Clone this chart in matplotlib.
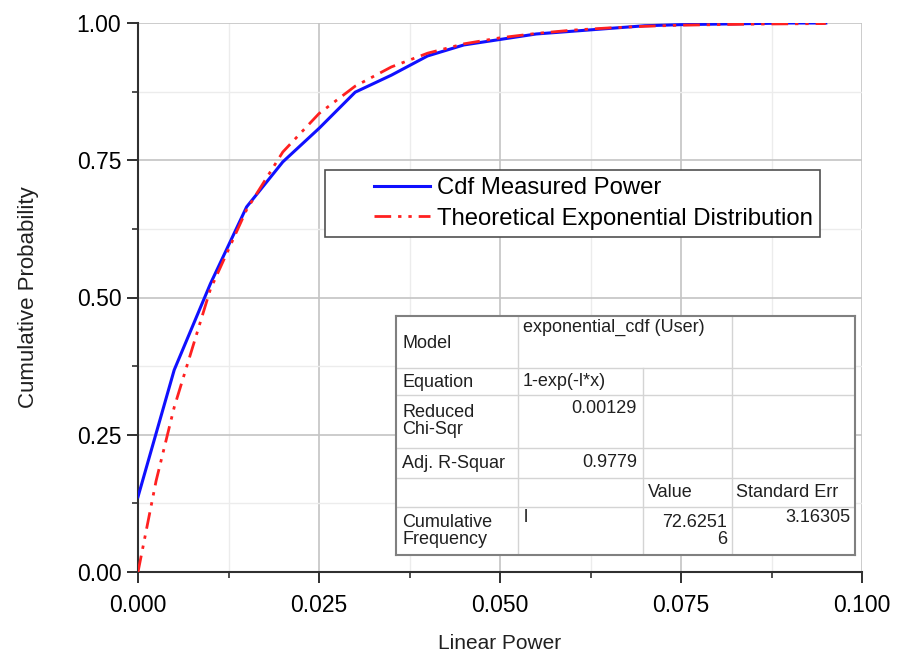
import matplotlib.pyplot as plt
from matplotlib.legend_handler import HandlerLine2D
from matplotlib.ticker import MultipleLocator, FormatStrFormatter

plt.rcParams['font.family'] = ['Liberation Sans', 'DejaVu Sans']

# measured cdf
x_meas = [0.0, 0.005, 0.010, 0.015, 0.020, 0.025, 0.030, 0.035, 0.040, 0.045,
          0.050, 0.055, 0.060, 0.065, 0.070, 0.075, 0.080, 0.085, 0.090, 0.095]
cdf_meas = [0.137, 0.368, 0.525, 0.665, 0.747, 0.808, 0.874, 0.905, 0.940, 0.960,
            0.970, 0.980, 0.985, 0.990, 0.995, 0.997, 0.998, 0.999, 1.0, 1.0]

# theoretical exponential
x_theo = [0.0, 0.0025, 0.005, 0.010, 0.015, 0.020, 0.025, 0.030, 0.035, 0.040, 0.045,
          0.050, 0.055, 0.060, 0.065, 0.070, 0.075, 0.080, 0.085, 0.090, 0.095]
cdf_theo = [0.0, 0.166, 0.30, 0.515, 0.66, 0.765, 0.835, 0.885, 0.92, 0.945, 0.962,
            0.973, 0.981, 0.987, 0.991, 0.994, 0.996, 0.997, 0.998, 0.9985, 0.999]

labels = ["Cdf Measured Power", "Theoretical Exponential Distribution"]

fig = plt.figure(figsize=(8.97, 6.6), dpi=100)
ax = fig.add_axes([138/897, 1-572/660, 724/897, 549/660])

ax.plot(x_meas, cdf_meas, color='#1010ff', lw=2.2, label=labels[0], zorder=3)
ax.plot(x_theo, cdf_theo, color='#ff2020', lw=2.0, ls=(0, (6, 2.5, 1.2, 2.5, 1.2, 2.5)),
        label=labels[1], zorder=4)

ax.set_xlim(0, 0.1)
ax.set_ylim(0, 1.0)
ax.xaxis.set_major_locator(MultipleLocator(0.025))
ax.xaxis.set_minor_locator(MultipleLocator(0.0125))
ax.yaxis.set_major_locator(MultipleLocator(0.25))
ax.yaxis.set_minor_locator(MultipleLocator(0.125))
ax.xaxis.set_major_formatter(FormatStrFormatter('%.3f'))
ax.yaxis.set_major_formatter(FormatStrFormatter('%.2f'))

ax.grid(True, which='major', color='#c4c4c4', lw=1.2)
ax.grid(True, which='minor', color='#ececec', lw=1.0)
ax.set_axisbelow(True)

for s in ['top', 'right']:
    ax.spines[s].set_visible(False)
for s in ['left', 'bottom']:
    ax.spines[s].set_color('#303030')
    ax.spines[s].set_linewidth(1.5)
ax.tick_params(which='major', length=8, width=1.4, color='#303030', labelsize=16.5, pad=4)
ax.tick_params(which='minor', length=4, width=1.2, color='#303030')
ax.tick_params(axis='x', pad=8)

ax.set_xlabel("Linear Power", fontsize=15, labelpad=12, color='#202020')
ax.set_ylabel("Cumulative Probability", fontsize=16, labelpad=27, color='#202020')

leg = ax.legend(loc='upper left', bbox_to_anchor=(0.258, 0.732), borderaxespad=0,
                fontsize=17.2, fancybox=False, edgecolor='#505050', framealpha=1,
                handlelength=4.1, handletextpad=0.3, borderpad=0.3, labelspacing=0.35,
                handler_map={plt.Line2D: HandlerLine2D(xpad=1.75)})
leg.get_frame().set_linewidth(1.2)

# fit results table (pixel coords)
tx0, tx1, ty0, ty1 = 396, 855, 316, 555
tab = fig.add_axes([tx0/897, 1-ty1/660, (tx1-tx0)/897, (ty1-ty0)/660], zorder=5)
tab.set_xlim(tx0, tx1)
tab.set_ylim(ty1, ty0)
tab.set_xticks([])
tab.set_yticks([])
for s in tab.spines.values():
    s.set_color('#808080')
    s.set_linewidth(1.5)

row_lines = [368, 395, 448, 478, 507]
for y in row_lines:
    tab.plot([tx0, tx1], [y, y], color='#d4d4d4', lw=1)
tab.plot([518, 518], [ty0, ty1], color='#d4d4d4', lw=1)
tab.plot([732, 732], [ty0, ty1], color='#d4d4d4', lw=1)
tab.plot([643, 643], [368, ty1], color='#d4d4d4', lw=1)

fs = 13
tc = '#202020'
tab.text(402, 343, "Model", fontsize=fs, va='center', color=tc)
tab.text(523, 327, "exponential_cdf (User)", fontsize=fs, va='center', color=tc)
tab.text(402, 382, "Equation", fontsize=fs, va='center', color=tc)
tab.text(523, 381, "1-exp(-l*x)", fontsize=fs, va='center', color=tc)
tab.text(402, 421, "Reduced\nChi-Sqr", fontsize=fs, va='center', color=tc, linespacing=1.05)
tab.text(637, 408, "0.00129", fontsize=fs, va='center', ha='right', color=tc)
tab.text(402, 463, "Adj. R-Squar", fontsize=fs, va='center', color=tc)
tab.text(637, 462, "0.9779", fontsize=fs, va='center', ha='right', color=tc)
tab.text(648, 492, "Value", fontsize=fs, va='center', color=tc)
tab.text(736, 492, "Standard Err", fontsize=fs, va='center', color=tc)
tab.text(402, 531, "Cumulative\nFrequency", fontsize=fs, va='center', color=tc, linespacing=1.05)
tab.text(524, 518, "l", fontsize=fs, va='center', color=tc)
tab.text(727, 531, "72.6251\n6", fontsize=fs, va='center', ha='right', color=tc, linespacing=1.05)
tab.text(850, 518, "3.16305", fontsize=fs, va='center', ha='right', color=tc)

fig.savefig("out.png", dpi=100)
